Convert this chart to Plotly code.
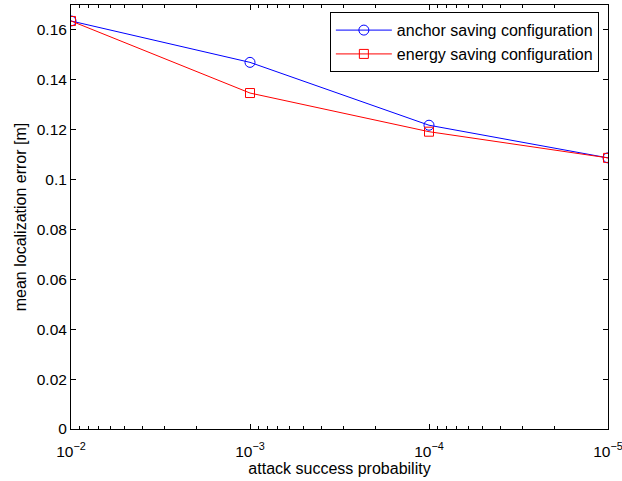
import plotly.graph_objects as go

x_vals = [1e-2, 1e-3, 1e-4, 1e-5]
anchor_err = [0.1636, 0.1470, 0.1218, 0.1087]
energy_err = [0.1636, 0.1347, 0.1192, 0.1087]
x_tick_vals = [1e-2, 1e-3, 1e-4, 1e-5]
x_tick_text = ["10<sup>−2</sup>", "10<sup>−3</sup>", "10<sup>−4</sup>", "10<sup>−5</sup>"]
y_tick_vals = [0, 0.02, 0.04, 0.06, 0.08, 0.1, 0.12, 0.14, 0.16]
y_tick_text = ["0", "0.02", "0.04", "0.06", "0.08", "0.1", "0.12", "0.14", "0.16"]
minor_x = [m * 10.0 ** e for e in (-5, -4, -3) for m in range(2, 10)]

FONT = "Liberation Sans, Arial, Helvetica"

fig = go.Figure()
fig.add_trace(go.Scatter(
    x=x_vals, y=anchor_err, mode="lines+markers", name="anchor saving configuration",
    line=dict(color="#0000FF", width=1),
    marker=dict(symbol="circle-open", size=10, color="#0000FF", line=dict(width=1)),
))
fig.add_trace(go.Scatter(
    x=x_vals, y=energy_err, mode="lines+markers", name="energy saving configuration",
    line=dict(color="#FF0000", width=1),
    marker=dict(symbol="square-open", size=9, color="#FF0000", line=dict(width=1)),
))

axis_common = dict(
    showline=True, linecolor="black", linewidth=1, mirror="allticks",
    ticks="inside", ticklen=5, tickcolor="black", showgrid=False, zeroline=False,
    tickfont=dict(family=FONT, size=15.5, color="black"), automargin=False,
    ticklabeloverflow="allow",
)

fig.update_xaxes(
    type="log", range=[-2, -5], tickmode="array", tickvals=x_tick_vals, ticktext=x_tick_text,
    ticklabelstandoff=8,
    title=dict(text="attack success probability", font=dict(family=FONT, size=16, color="black"), standoff=1),
    minor=dict(tickmode="array", tickvals=minor_x, ticks="inside", ticklen=3, tickcolor="black", showgrid=False),
    **axis_common,
)
fig.update_yaxes(
    range=[0, 0.17], tickmode="array", tickvals=y_tick_vals, ticktext=y_tick_text,
    title=dict(text="mean localization error [m]", font=dict(family=FONT, size=16, color="black"), standoff=6),
    **axis_common,
)

fig.update_layout(
    width=622, height=481,
    margin=dict(l=71, r=14, t=5, b=52, autoexpand=False),
    paper_bgcolor="white", plot_bgcolor="white",
    font=dict(family=FONT, size=16, color="black"),
    legend=dict(
        x=0.983, y=0.983, xanchor="right", yanchor="top",
        bordercolor="black", borderwidth=1, bgcolor="white",
        font=dict(family=FONT, size=16, color="black"),
        tracegroupgap=0, itemwidth=56,
    ),
    showlegend=True,
)

fig.write_html("out.html", post_script="document.body.style.margin='0';",
               config={"displayModeBar": False})
